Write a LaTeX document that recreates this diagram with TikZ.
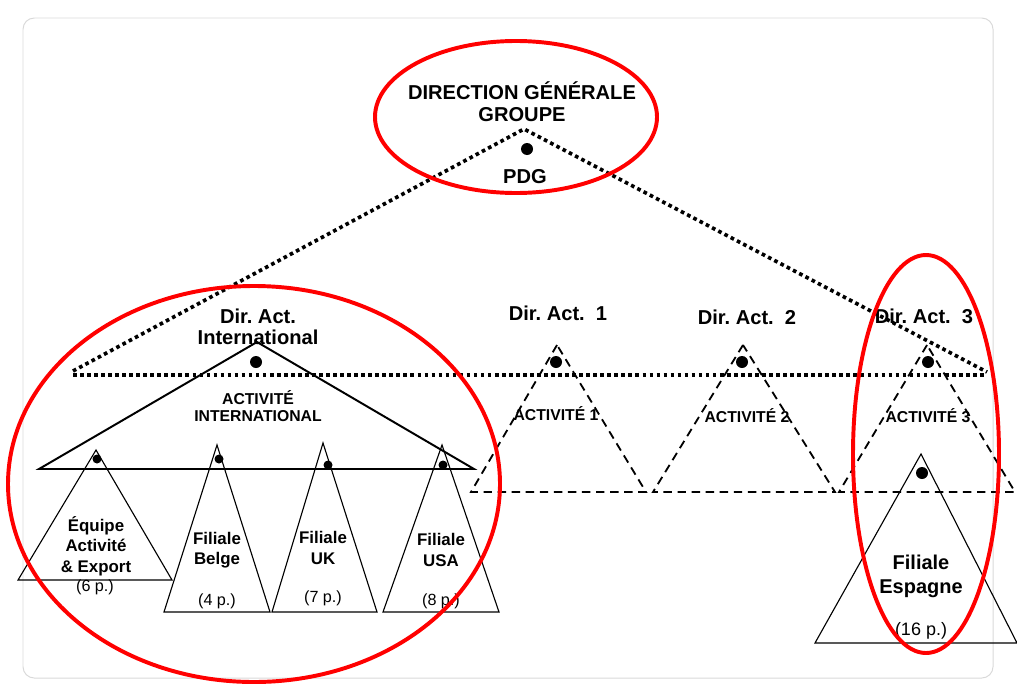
\documentclass[tikz,border=0pt]{standalone}
\usepackage{fontspec}
\setmainfont{Liberation Sans}
\frenchspacing
\begin{document}
\begin{tikzpicture}[x=0.025cm,y=-0.025cm,inner sep=0pt,
  titre/.style={font=\fontsize{14.3}{15.6}\selectfont\bfseries,align=center},
  actv/.style={font=\fontsize{11.2}{12}\selectfont\bfseries,align=center},
  fil/.style={font=\fontsize{12}{14.5}\selectfont\bfseries,align=center},
  eff/.style={font=\fontsize{11.5}{12}\selectfont},
  pointille/.style={line width=2.6pt,dash pattern=on 2.6pt off 2.4pt},
  tirets/.style={line width=1.3pt,dash pattern=on 6pt off 4pt},
  cercle/.style={draw=red,line width=2.8pt}]
\useasboundingbox (0,0) rectangle (1017,684);
\draw[black!15,line width=0.7pt,rounded corners=8] (23,18) rectangle (993,678);
\node[titre] (dg) at (522,102) {DIRECTION GÉNÉRALE\\GROUPE};
\node[titre] (pdg) at (525,177) {PDG};
\fill (527,149) circle (6);
\coordinate (sommet) at (524,129);
\coordinate (gauche) at (73,371);
\coordinate (droite) at (987,372);
\coordinate (ligneg) at (73,375);
\coordinate (ligned) at (987,375);
\draw[pointille] (gauche) -- (sommet) -- (droite);
\draw[pointille] (ligneg) -- (ligned);
\node[titre,font=\fontsize{14.3}{15}\selectfont\bfseries] (dirint) at (258,327) {Dir. Act.\\International};
\draw[line width=1.4pt] (257,342) -- (39,469) -- (474,469) -- cycle;
\fill (256,362) circle (6);
\node[actv] (actint) at (258,406) {ACTIVITÉ\\INTERNATIONAL};
\node[titre] (dir1) at (558,313) {Dir. Act.~~1};
\node[titre] (dir2) at (747,317) {Dir. Act.~~2};
\node[titre] (dir3) at (924,316) {Dir. Act.~~3};
\draw[tirets] (557,345) -- (471,492) -- (646,492) -- cycle;
\draw[tirets] (743,345) -- (653,492) -- (835,492) -- cycle;
\draw[tirets] (927,345) -- (839,492) -- (1015,492) -- cycle;
\fill (556,362) circle (6);
\fill (742,362) circle (6);
\fill (928,362) circle (6);
\node[actv] (act1) at (556,414) {ACTIVITÉ 1};
\node[actv] (act2) at (747,416) {ACTIVITÉ 2};
\node[actv] (act3) at (928,416) {ACTIVITÉ 3};
\draw[line width=0.8pt] (96,450) -- (18,580) -- (172,580) -- cycle;
\draw[line width=0.8pt] (217,445) -- (164,612) -- (270,612) -- cycle;
\draw[line width=0.8pt] (323,443) -- (272,612) -- (377,612) -- cycle;
\draw[line width=0.8pt] (442,445) -- (383,612) -- (499,612) -- cycle;
\fill (97,459) circle (4.5);
\fill (219,459) circle (4.5);
\fill (328,465) circle (4.5);
\fill (443,465) circle (4.5);
\node[fil] (equipe) at (96,546) {Équipe\\Activité\\\& Export};
\node[fil] (belge) at (217,550) {Filiale\\Belge};
\node[fil] (uk) at (323,548) {Filiale\\UK};
\node[fil] (usa) at (441,550) {Filiale\\USA};
\node[eff] (p6) at (95,587) {(6 p.)};
\node[eff] (p4) at (217,601) {(4 p.)};
\node[eff] (p7) at (323,598) {(7 p.)};
\node[eff] (p8) at (441,601) {(8 p.)};
\draw[line width=0.8pt] (921,454) -- (815,643) -- (1017,643) -- cycle;
\fill (922,473) circle (6);
\node[titre,font=\fontsize{14.2}{17}\selectfont\bfseries] (espagne) at (921,576) {Filiale\\Espagne};
\node[font=\fontsize{12.8}{14}\selectfont] (p16) at (921,631) {(16 p.)};
\draw[cercle] (516,117) ellipse (141 and 76);
\draw[cercle] (254,484) ellipse (246 and 198);
\draw[cercle] (926,454) ellipse (73 and 199);
\end{tikzpicture}
\end{document}
